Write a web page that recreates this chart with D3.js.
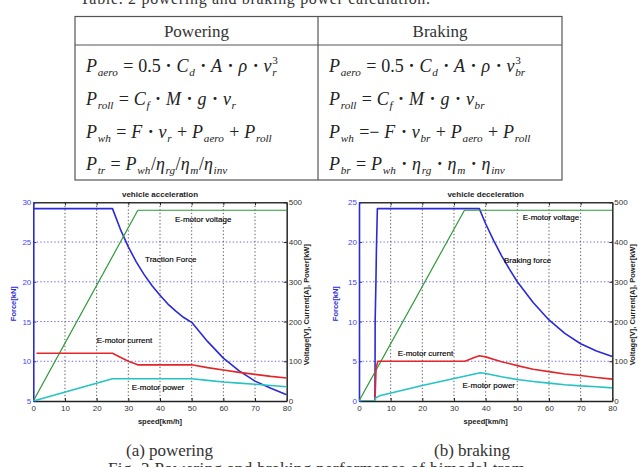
<!DOCTYPE html>
<html><head><meta charset="utf-8">
<script src="https://cdn.jsdelivr.net/npm/d3@7"></script>
<style>body{margin:0;background:#fff} svg{display:block}</style>
</head><body>
<svg id="c" width="642" height="467"></svg>
<script>
// ---------------- data ----------------
const speedTicks = [0, 10, 20, 30, 40, 50, 60, 70, 80];
const accForceTicks = [5, 10, 15, 20, 25, 30];
const decForceTicks = [0, 5, 10, 15, 20, 25];
const elecTicks = [0, 100, 200, 300, 400, 500];

// (a) powering / vehicle acceleration
const accForceSpeed = [0, 25, 27.5, 30, 32.5, 35, 37.5, 40, 42.5, 45, 47.5, 50, 55, 60, 65, 70, 75, 80];
const accForce      = [29.2, 29.2, 26.6, 24.4, 22.5, 20.9, 19.5, 18.3, 17.2, 16.3, 15.5, 14.9, 12.5, 10.4, 8.8, 7.5, 6.6, 5.8];
const accVoltSpeed  = [0, 33, 80];
const accVolt       = [0, 480, 480];
const accCurrSpeed  = [1, 25, 27, 30, 33, 50, 55, 60, 65, 70, 75, 80];
const accCurr       = [120, 120, 112, 100, 91, 91, 84, 78, 72, 67, 62, 58];
const accPowSpeed   = [0, 25, 50, 55, 60, 65, 70, 75, 80];
const accPow        = [0, 56, 56, 52, 48, 45, 42, 39, 36];

// (b) braking / vehicle deceleration
const decForceSpeed = [5.05, 5.1, 5.35, 5.5, 5.8, 38, 40, 42.5, 45, 47.5, 50, 55, 60, 65, 70, 75, 80];
const decForce      = [0, 10, 15, 19, 24.2, 24.2, 22.3, 20.2, 18.3, 16.6, 15.0, 12.4, 10.2, 8.5, 7.2, 6.3, 5.6];
const decVoltSpeed  = [0, 33.3, 80];
const decVolt       = [0, 480, 480];
const decCurrSpeed  = [0, 5.05, 5.4, 6.0, 33.5, 36, 38, 40, 45, 50, 55, 60, 65, 70, 75, 80];
const decCurr       = [0, 0, 85, 100, 100, 108, 114, 111, 99, 89, 80, 74, 68, 64, 59, 55];
const decPowSpeed   = [0, 5.05, 5.3, 6.5, 20, 38.3, 40, 45, 50, 55, 60, 65, 70, 75, 80];
const decPow        = [0, 0, 8, 13, 39, 71, 69, 61, 54, 49, 45, 41, 38, 36, 33];

// table
const tableHeaders = ["Powering", "Braking"];
const poweringFormulas = [
  "P_{aero} = 0.5 · C_{d} · A · ρ · v_{r}^{3}",
  "P_{roll} = C_{f} · M · g · v_{r}",
  "P_{wh} = F · v_{r} + P_{aero} + P_{roll}",
  "P_{tr} = P_{wh}/η_{rg}/η_{m}/η_{inv}"
];
const brakingFormulas = [
  "P_{aero} = 0.5 · C_{d} · A · ρ · v_{br}^{3}",
  "P_{roll} = C_{f} · M · g · v_{br}",
  "P_{wh} =− F · v_{br} + P_{aero} + P_{roll}",
  "P_{br} = P_{wh} · η_{rg} · η_{m} · η_{inv}"
];
const tableCaption = "Table. 2 powering and braking power calculation.";
const subCaptions = ["(a) powering", "(b) braking"];
const figCaption = "Fig. 3 Powering and braking performance of bimodal tram";

// ---------------- drawing ----------------
const svg = d3.select("#c");
const SERIF = "'Liberation Serif','Times New Roman',serif";
const SANS = "'Liberation Sans',Arial,Helvetica,sans-serif";
const C = {blue: "#2a2ad6", red: "#e3262a", green: "#2f9a3a", cyan: "#25c3c3",
           tickBlue: "#4646f0", dark: "#333"};

// caption top
svg.append("text").attr("x", 80).attr("y", 4).attr("font-family", SERIF).attr("font-size", 16)
  .attr("fill", "#333").attr("textLength", 350).attr("lengthAdjust", "spacing").text(tableCaption);

// table
const tb = {x0: 75, x1: 562, xm: 318, y0: 16.5, yh: 45, y1: 180};
const tg = svg.append("g").attr("stroke", "#555").attr("stroke-width", 1.2).attr("fill", "none");
tg.append("rect").attr("x", tb.x0).attr("y", tb.y0).attr("width", tb.x1 - tb.x0).attr("height", tb.y1 - tb.y0);
tg.append("line").attr("x1", tb.x0).attr("x2", tb.x1).attr("y1", tb.yh).attr("y2", tb.yh);
tg.append("line").attr("x1", tb.xm).attr("x2", tb.xm).attr("y1", tb.y0).attr("y2", tb.y1);
svg.selectAll(".th").data(tableHeaders).join("text")
  .attr("x", (d, i) => i === 0 ? (tb.x0 + tb.xm) / 2 : (tb.xm + tb.x1) / 2)
  .attr("y", 37).attr("text-anchor", "middle").attr("font-family", SERIF).attr("font-size", 17)
  .attr("fill", "#333").text(d => d);

function parseFormula(s) {
  const out = [];
  let i = 0;
  while (i < s.length) {
    const ch = s[i];
    if ((ch === "_" || ch === "^") && s[i + 1] === "{") {
      const j = s.indexOf("}", i);
      out.push({t: s.slice(i + 2, j), kind: ch === "_" ? "sub" : "sup"});
      i = j + 1;
    } else {
      out.push({t: ch, kind: "base"});
      i++;
    }
  }
  return out;
}
function drawFormula(g, s, x, y, size) {
  const toks = parseFormula(s);
  let cx = x, lastSubStart = null;
  toks.forEach(tk => {
    if (tk.kind === "base") {
      lastSubStart = null;
      if (tk.t === " ") { cx += size * 0.27; return; }
      const ital = /[A-Za-zρη]/.test(tk.t);
      const isDot = tk.t === "·";
      const el = g.append("text").attr("x", cx).attr("y", y).attr("font-family", SERIF)
        .attr("font-size", size).attr("fill", "#222")
        .attr("font-style", ital ? "italic" : "normal")
        .attr("font-weight", isDot ? "bold" : "normal").text(tk.t);
      cx += el.node().getComputedTextLength() + (ital ? size * 0.04 : 0);
    } else {
      const ss = size * 0.62;
      let sx = cx;
      if (tk.kind === "sup" && lastSubStart !== null) sx = lastSubStart;
      const el = g.append("text").attr("x", sx)
        .attr("y", tk.kind === "sub" ? y + size * 0.22 : y - size * 0.42)
        .attr("font-family", SERIF).attr("font-size", ss).attr("fill", "#222")
        .attr("font-style", /[0-9]/.test(tk.t) ? "normal" : "italic").text(tk.t);
      const w = el.node().getComputedTextLength();
      if (tk.kind === "sub") { lastSubStart = cx; cx += w + size * 0.03; }
      else { cx = Math.max(cx, sx + w + size * 0.03); lastSubStart = null; }
    }
  });
}
const rowY = [72, 105, 138, 170];
const fg = svg.append("g");
poweringFormulas.forEach((f, i) => drawFormula(fg, f, 86, rowY[i], 18));
brakingFormulas.forEach((f, i) => drawFormula(fg, f, 329, rowY[i], 18));

// captions bottom
svg.append("text").attr("x", 126).attr("y", 456).attr("font-family", SERIF).attr("font-size", 17)
  .attr("fill", "#333").attr("textLength", 87).attr("lengthAdjust", "spacing").text(subCaptions[0]);
svg.append("text").attr("x", 434).attr("y", 456).attr("font-family", SERIF).attr("font-size", 17)
  .attr("fill", "#333").attr("textLength", 76).attr("lengthAdjust", "spacing").text(subCaptions[1]);
svg.append("text").attr("x", 108).attr("y", 474).attr("font-family", SERIF).attr("font-size", 17)
  .attr("fill", "#333").attr("textLength", 417).attr("lengthAdjust", "spacing").text(figCaption);

// chart panels
function panel(o) {
  const g = svg.append("g");
  const x = d3.scaleLinear().domain([0, 80]).range([o.x0, o.x1]);
  const yF = d3.scaleLinear().domain([o.fTicks[0], o.fTicks[o.fTicks.length - 1]]).range([o.yb, o.yt]);
  const yE = d3.scaleLinear().domain([0, 500]).range([o.yb, o.yt]);

  // grid
  g.selectAll(".vg").data(speedTicks.slice(1, -1)).join("line")
    .attr("x1", d => x(d)).attr("x2", d => x(d)).attr("y1", o.yt).attr("y2", o.yb)
    .attr("stroke", "#444").attr("stroke-width", 0.9).attr("stroke-dasharray", "1.3,2.2");
  g.selectAll(".hg").data(o.fTicks.slice(1, -1)).join("line")
    .attr("x1", o.x0).attr("x2", o.x1).attr("y1", d => yF(d)).attr("y2", d => yF(d))
    .attr("stroke", "#5050ee").attr("stroke-width", 0.9).attr("stroke-dasharray", "1.3,2.2");

  // axes
  const fontAxis = sel => sel.selectAll("text").attr("font-family", SANS).attr("font-size", 8);
  const ab = g.append("g").attr("transform", `translate(0,${o.yb})`)
    .call(d3.axisBottom(x).tickValues(speedTicks).tickSize(-3).tickPadding(4).tickSizeOuter(0));
  fontAxis(ab); ab.selectAll("text").attr("fill", "#333");
  ab.select(".domain").attr("stroke", "#222").attr("stroke-width", 1.3);
  ab.selectAll(".tick line").attr("stroke", "#222");
  const at = g.append("g").attr("transform", `translate(0,${o.yt})`)
    .call(d3.axisTop(x).tickValues(speedTicks).tickSize(-3).tickFormat("").tickSizeOuter(0));
  at.select(".domain").attr("stroke", "#333").attr("stroke-width", 1.6);
  at.selectAll(".tick line").attr("stroke", "#222");
  const al = g.append("g").attr("transform", `translate(${o.x0},0)`)
    .call(d3.axisLeft(yF).tickValues(o.fTicks).tickSize(-3).tickPadding(2).tickSizeOuter(0));
  fontAxis(al); al.selectAll("text").attr("fill", C.tickBlue);
  al.select(".domain").attr("stroke", C.blue).attr("stroke-width", 1.6);
  al.selectAll(".tick line").attr("stroke", C.blue);
  const ar = g.append("g").attr("transform", `translate(${o.x1},0)`)
    .call(d3.axisRight(yE).tickValues(elecTicks).tickSize(-3).tickPadding(2).tickSizeOuter(0));
  fontAxis(ar); ar.selectAll("text").attr("fill", "#333");
  ar.select(".domain").attr("stroke", "#333").attr("stroke-width", 1.6);
  ar.selectAll(".tick line").attr("stroke", "#222");

  // lines
  const mk = (xs, ys, ysc) => d3.line().x((d, i) => x(xs[i])).y((d, i) => ysc(ys[i]))(ys);
  const clip = "clip" + o.id;
  g.append("clipPath").attr("id", clip).append("rect")
    .attr("x", o.x0).attr("y", o.yt - 1).attr("width", o.x1 - o.x0).attr("height", o.yb - o.yt + 1);
  const lg = g.append("g").attr("clip-path", `url(#${clip})`).attr("fill", "none").attr("stroke-width", 1.6)
    .attr("stroke-linejoin", "round");
  lg.append("path").attr("d", mk(o.fS, o.f, yF)).attr("stroke", C.blue);
  lg.append("path").attr("d", mk(o.vS, o.v, yE)).attr("stroke", C.green).attr("stroke-width", 1.2);
  lg.append("path").attr("d", mk(o.cS, o.c, yE)).attr("stroke", C.red);
  lg.append("path").attr("d", mk(o.pS, o.p, yE)).attr("stroke", C.cyan);

  // labels
  const cxp = (o.x0 + o.x1) / 2, cyp = (o.yt + o.yb) / 2;
  g.append("text").attr("x", cxp).attr("y", 196.5).attr("text-anchor", "middle")
    .attr("font-family", SANS).attr("font-size", 8).attr("font-weight", "bold").attr("fill", "#222").text(o.title);
  g.append("text").attr("x", cxp).attr("y", 423.5).attr("text-anchor", "middle")
    .attr("font-family", SANS).attr("font-size", 7.5).attr("font-weight", "bold").attr("fill", "#222").text("speed[km/h]");
  g.append("text").attr("transform", `translate(${o.x0 - o.lOff},${cyp + 2}) rotate(-90)`)
    .attr("text-anchor", "middle").attr("dominant-baseline", "central")
    .attr("font-family", SANS).attr("font-size", 7.5).attr("font-weight", "bold").attr("fill", C.blue).text("Force[kN]");
  g.append("text").attr("transform", `translate(${o.x1 + 20},${cyp + 3}) rotate(-90)`)
    .attr("text-anchor", "middle").attr("dominant-baseline", "central")
    .attr("font-family", SANS).attr("font-size", 7.5).attr("font-weight", "bold").attr("fill", "#222")
    .text("Voltage[V], Current[A], Power[kW]");
  o.notes.forEach(n => {
    g.append("text").attr("x", x(n.v)).attr("y", yE(n.e)).attr("font-family", SANS).attr("font-size", 8)
      .attr("fill", "#000").attr("stroke", "#000").attr("stroke-width", 0.15).text(n.t);
  });
}

panel({id: "a", x0: 33.3, x1: 286.7, yt: 202.3, yb: 401, fTicks: accForceTicks, lOff: 20,
  title: "vehicle acceleration",
  fS: accForceSpeed, f: accForce, vS: accVoltSpeed, v: accVolt, cS: accCurrSpeed, c: accCurr, pS: accPowSpeed, p: accPow,
  notes: [{t: "E-motor voltage", v: 44.7, e: 451}, {t: "Traction Force", v: 35.3, e: 350},
          {t: "E-motor current", v: 20, e: 146}, {t: "E-motor power", v: 31.1, e: 27}]});
panel({id: "b", x0: 359, x1: 612.3, yt: 202.3, yb: 401, fTicks: decForceTicks, lOff: 24,
  title: "vehicle deceleration",
  fS: decForceSpeed, f: decForce, vS: decVoltSpeed, v: decVolt, cS: decCurrSpeed, c: decCurr, pS: decPowSpeed, p: decPow,
  notes: [{t: "E-motor voltage", v: 51.7, e: 456}, {t: "Braking force", v: 45.8, e: 348},
          {t: "E-motor current", v: 12.2, e: 113}, {t: "E-motor power", v: 32.7, e: 33}]});
</script>
</body></html>
